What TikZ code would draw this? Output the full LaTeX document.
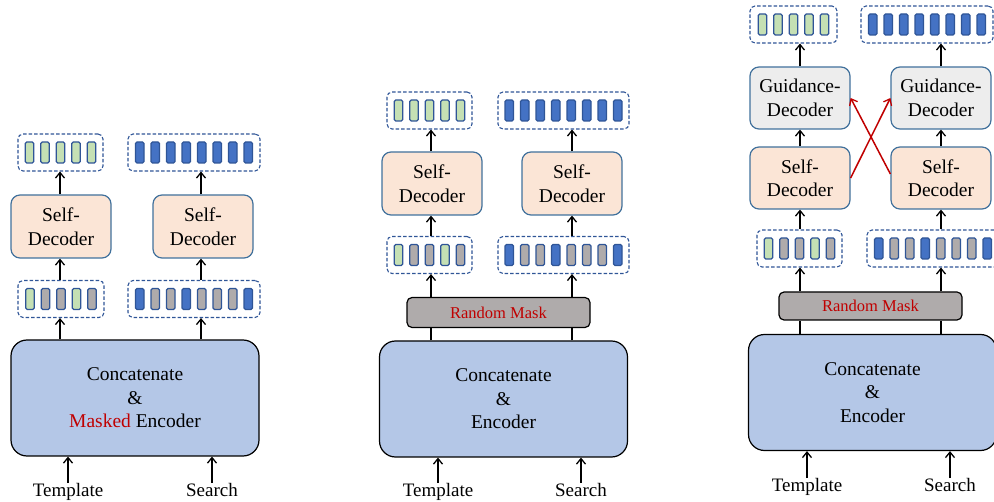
\documentclass[tikz,border=0pt]{standalone}
\usepackage{fontspec}
\setmainfont{Liberation Serif}
\usetikzlibrary{arrows.meta}

\definecolor{dashblue}{HTML}{2F5597}
\definecolor{edgeblue}{HTML}{41719C}
\definecolor{tokgreen}{HTML}{C5E0B4}
\definecolor{tokblue}{HTML}{4472C4}
\definecolor{tokgray}{HTML}{AFABAB}
\definecolor{decfill}{HTML}{FBE5D6}
\definecolor{guidfill}{HTML}{EDEDED}
\definecolor{encfill}{HTML}{B4C7E7}
\definecolor{maskfill}{HTML}{AFABAB}
\definecolor{maskred}{HTML}{C00000}

\tikzset{
  tokbox/.style={draw=dashblue,dash pattern=on 3.5pt off 2pt,line width=1.1pt,
    rounded corners=5pt,minimum height=37pt,inner sep=0pt},
  tok/.style={draw=dashblue,line width=1.1pt,rounded corners=1.5pt,
    minimum width=8.5pt,minimum height=21pt,inner sep=0pt},
  decbox/.style={draw=edgeblue,line width=1.2pt,rounded corners=9pt,fill=decfill,
    minimum width=100pt,minimum height=63pt,align=center,inner sep=0pt,
    font=\fontsize{19.5}{23.5}\selectfont},
  guidbox/.style={decbox,fill=guidfill},
  encbox/.style={draw=black,line width=1.2pt,rounded corners=16pt,fill=encfill,
    minimum width=248pt,minimum height=116pt,align=center,inner sep=0pt,
    font=\fontsize{19.5}{23.5}\selectfont},
  maskbox/.style={draw=black,line width=1.2pt,rounded corners=5pt,fill=maskfill,
    minimum width=183pt,minimum height=30pt,inner sep=0pt,text=maskred,
    font=\fontsize{16.5}{19}\selectfont},
  lbl/.style={font=\fontsize{19}{22}\selectfont,inner sep=0pt,anchor=base},
  arr/.style={line width=1.5pt,-{Straight Barb[length=5.5pt,width=9pt,line width=1.3pt]}},
  redarr/.style={line width=1.5pt,draw=maskred,-{Straight Barb[length=5.5pt,width=9pt,line width=1.3pt]}},
  plain/.style={line width=1.5pt}
}

% name, centre x, centre y, box width, number of tokens, colour list
\newcommand\tokrow[6]{%
  \node[tokbox,minimum width=#4] (#1) at (#2,#3) {};
  \foreach \c [count=\i] in {#6}
    \node[tok,fill=\c] (#1-\i) at ({#2+(\i-(#5+1)/2)*15.5},#3) {};
}

\begin{document}
\begin{tikzpicture}[x=1pt,y=-1pt]
\useasboundingbox (0,0) rectangle (994,502);

% ---------------- left: masked encoder + self-decoders ----------------
\node[encbox] (enc1) at (135,398) {Concatenate\\\&\\\textcolor{maskred}{Masked} Encoder};
\node[lbl] (tpl1) at (68,496.5) {Template};
\node[lbl] (srch1) at (212,496.5) {Search};
\coordinate (c1L) at (60,0);
\coordinate (c1R) at (201,0);

\tokrow{bot1L}{61}{299}{86pt}{5}{tokgreen,tokgray,tokgray,tokgreen,tokgray}
\tokrow{bot1R}{194}{299}{132pt}{8}{tokblue,tokgray,tokgray,tokblue,tokgray,tokgray,tokgray,tokblue}
\node[decbox] (dec1L) at (61,226.5) {Self-\\Decoder};
\node[decbox] (dec1R) at (203,226.5) {Self-\\Decoder};
\tokrow{top1L}{60.5}{152.5}{85pt}{5}{tokgreen,tokgreen,tokgreen,tokgreen,tokgreen}
\tokrow{top1R}{194}{152.5}{132pt}{8}{tokblue,tokblue,tokblue,tokblue,tokblue,tokblue,tokblue,tokblue}

\draw[arr] (tpl1.north) -- (enc1.south -| tpl1.north);
\draw[arr] (srch1.north) -- (enc1.south -| srch1.north);
\draw[arr] (enc1.north -| c1L) -- (bot1L.south -| c1L);
\draw[arr] (enc1.north -| c1R) -- (bot1R.south -| c1R);
\draw[arr] (bot1L.north -| c1L) -- (dec1L.south -| c1L);
\draw[arr] (bot1R.north -| c1R) -- (dec1R.south -| c1R);
\draw[arr] (dec1L.north -| c1L) -- (top1L.south -| c1L);
\draw[arr] (dec1R.north -| c1R) -- (top1R.south -| c1R);

% ---------------- middle: encoder + random mask + self-decoders ----------------
\node[encbox] (enc2) at (503.5,399) {Concatenate\\\&\\Encoder};
\node[lbl] (tpl2) at (438,496.5) {Template};
\node[lbl] (srch2) at (581,496.5) {Search};
\coordinate (c2L) at (431,0);
\coordinate (c2R) at (572,0);
\node[maskbox] (mask2) at (498.5,312.5) {Random Mask};

\tokrow{bot2L}{429.5}{255}{85pt}{5}{tokgreen,tokgray,tokgray,tokgreen,tokgray}
\tokrow{bot2R}{563.5}{255}{131pt}{8}{tokblue,tokgray,tokgray,tokblue,tokgray,tokgray,tokgray,tokblue}
\node[decbox] (dec2L) at (432,183.5) {Self-\\Decoder};
\node[decbox] (dec2R) at (572,183.5) {Self-\\Decoder};
\tokrow{top2L}{429.5}{110.5}{85pt}{5}{tokgreen,tokgreen,tokgreen,tokgreen,tokgreen}
\tokrow{top2R}{563.5}{110.5}{131pt}{8}{tokblue,tokblue,tokblue,tokblue,tokblue,tokblue,tokblue,tokblue}

\draw[arr] (tpl2.north) -- (enc2.south -| tpl2.north);
\draw[arr] (srch2.north) -- (enc2.south -| srch2.north);
\draw[plain] (enc2.north -| c2L) -- (mask2.south -| c2L);
\draw[plain] (enc2.north -| c2R) -- (mask2.south -| c2R);
\draw[arr] (mask2.north -| c2L) -- (bot2L.south -| c2L);
\draw[arr] (mask2.north -| c2R) -- (bot2R.south -| c2R);
\draw[arr] (bot2L.north -| c2L) -- (dec2L.south -| c2L);
\draw[arr] (bot2R.north -| c2R) -- (dec2R.south -| c2R);
\draw[arr] (dec2L.north -| c2L) -- (top2L.south -| c2L);
\draw[arr] (dec2R.north -| c2R) -- (top2R.south -| c2R);

% ---------------- right: self-decoders + cross guidance-decoders ----------------
\node[encbox] (enc3) at (872.5,392.5) {Concatenate\\\&\\Encoder};
\node[lbl] (tpl3) at (807,491.5) {Template};
\node[lbl] (srch3) at (950,491.5) {Search};
\coordinate (c3L) at (800,0);
\coordinate (c3R) at (941,0);
\node[maskbox,minimum height=28pt] (mask3) at (870.5,306) {Random Mask};

\tokrow{bot3L}{799.5}{248.5}{85pt}{5}{tokgreen,tokgray,tokgray,tokgreen,tokgray}
\tokrow{bot3R}{933}{248.5}{132pt}{8}{tokblue,tokgray,tokgray,tokblue,tokgray,tokgray,tokgray,tokblue}
\node[decbox,minimum height=62pt] (sd3L) at (800,178) {Self-\\Decoder};
\node[decbox,minimum height=62pt] (sd3R) at (941,178) {Self-\\Decoder};
\node[guidbox,minimum height=62pt] (gd3L) at (800,98) {Guidance-\\Decoder};
\node[guidbox,minimum height=62pt] (gd3R) at (941,98) {Guidance-\\Decoder};
\tokrow{top3L}{793.5}{24.5}{87pt}{5}{tokgreen,tokgreen,tokgreen,tokgreen,tokgreen}
\tokrow{top3R}{927}{24.5}{132pt}{8}{tokblue,tokblue,tokblue,tokblue,tokblue,tokblue,tokblue,tokblue}

\draw[arr] (tpl3.north) -- (enc3.south -| tpl3.north);
\draw[arr] (srch3.north) -- (enc3.south -| srch3.north);
\draw[plain] (enc3.north -| c3L) -- (mask3.south -| c3L);
\draw[plain] (enc3.north -| c3R) -- (mask3.south -| c3R);
\draw[arr] (mask3.north -| c3L) -- (bot3L.south -| c3L);
\draw[arr] (mask3.north -| c3R) -- (bot3R.south -| c3R);
\draw[arr] (bot3L.north -| c3L) -- (sd3L.south -| c3L);
\draw[arr] (bot3R.north -| c3R) -- (sd3R.south -| c3R);
\draw[arr] (sd3L.north -| c3L) -- (gd3L.south -| c3L);
\draw[arr] (sd3R.north -| c3R) -- (gd3R.south -| c3R);
\draw[arr] (gd3L.north -| c3L) -- (top3L.south -| c3L);
\draw[arr] (gd3R.north -| c3R) -- (top3R.south -| c3R);
\draw[redarr] (sd3L.east) -- (gd3R.west);
\draw[redarr] ([yshift=4pt]sd3R.west) -- (gd3L.east);
\end{tikzpicture}
\end{document}
